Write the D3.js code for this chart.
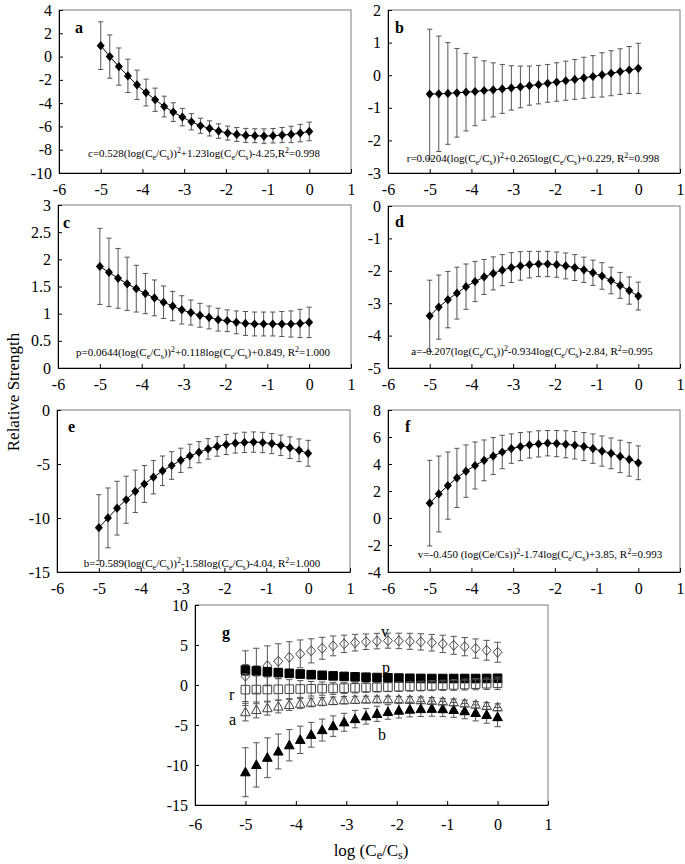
<!DOCTYPE html>
<html><head><meta charset="utf-8">
<script src="https://cdn.jsdelivr.net/npm/d3@7"></script>
<style>
body{margin:0;background:#fff;}
svg{display:block;}
svg text{font-family:"Liberation Serif","Times New Roman",Tinos,serif !important;}
</style></head>
<body><svg id="chart" width="685" height="864"></svg>
<script>
// ---------- data ----------
const logRatio = [-5.000,-4.783,-4.565,-4.348,-4.130,-3.913,-3.696,-3.478,-3.261,-3.043,-2.826,-2.609,-2.391,-2.174,-1.957,-1.739,-1.522,-1.304,-1.087,-0.870,-0.652,-0.435,-0.217,0.000];

const cVals = [0.94,0.00,-0.86,-1.66,-2.43,-3.09,-3.71,-4.29,-4.77,-5.20,-5.60,-5.94,-6.17,-6.40,-6.57,-6.69,-6.77,-6.80,-6.83,-6.80,-6.74,-6.69,-6.57,-6.43];
const cErr  = [2.05,1.86,1.60,1.43,1.26,1.15,1.00,0.89,0.80,0.75,0.70,0.65,0.65,0.62,0.60,0.60,0.60,0.60,0.62,0.62,0.65,0.70,0.75,0.80];

const rVals = [-0.58,-0.57,-0.56,-0.54,-0.52,-0.50,-0.47,-0.45,-0.42,-0.39,-0.36,-0.32,-0.29,-0.25,-0.21,-0.17,-0.13,-0.08,-0.04,0.01,0.06,0.11,0.16,0.21];
const rErr  = [1.99,1.77,1.56,1.36,1.19,1.05,0.91,0.83,0.75,0.68,0.64,0.60,0.59,0.58,0.59,0.60,0.61,0.63,0.64,0.68,0.69,0.70,0.72,0.77];

const pVals = [1.87,1.76,1.65,1.55,1.46,1.37,1.29,1.21,1.14,1.07,1.02,0.97,0.93,0.89,0.87,0.84,0.82,0.81,0.81,0.81,0.81,0.81,0.82,0.84];
const pErr  = [0.70,0.63,0.55,0.49,0.43,0.37,0.33,0.30,0.27,0.26,0.23,0.22,0.21,0.21,0.20,0.21,0.22,0.22,0.22,0.22,0.23,0.24,0.26,0.28];

const aVals = [-3.39,-3.12,-2.89,-2.69,-2.49,-2.33,-2.19,-2.08,-1.98,-1.90,-1.85,-1.81,-1.79,-1.79,-1.81,-1.85,-1.90,-1.97,-2.06,-2.16,-2.30,-2.45,-2.61,-2.78];
const aErr  = [1.10,0.99,0.87,0.80,0.70,0.62,0.54,0.51,0.48,0.46,0.44,0.41,0.39,0.39,0.39,0.40,0.40,0.39,0.39,0.41,0.41,0.40,0.42,0.43];

const bVals = [-10.90,-9.99,-9.09,-8.31,-7.53,-6.85,-6.22,-5.63,-5.14,-4.66,-4.26,-3.91,-3.60,-3.37,-3.20,-3.07,-3.00,-2.97,-3.01,-3.11,-3.27,-3.49,-3.73,-4.01];
const bErr  = [3.06,2.77,2.49,2.18,1.96,1.71,1.55,1.37,1.28,1.12,1.09,0.98,0.95,0.91,0.93,0.92,0.94,0.94,0.94,0.93,0.95,1.00,1.05,1.20];

const vVals = [1.10,1.78,2.40,2.97,3.47,3.89,4.27,4.59,4.89,5.14,5.29,5.41,5.49,5.54,5.51,5.46,5.39,5.29,5.14,4.96,4.79,4.56,4.34,4.09];
const vErr  = [3.17,2.81,2.49,2.19,1.94,1.74,1.51,1.37,1.24,1.09,1.04,0.97,0.97,0.94,0.97,1.00,1.02,1.04,1.09,1.12,1.14,1.20,1.24,1.25];

const xTicks = [-6,-5,-4,-3,-2,-1,0,1];
const yTicksA = [-10,-8,-6,-4,-2,0,2,4];
const yTicksB = [-3,-2,-1,0,1,2];
const yTicksC = [0,0.5,1,1.5,2,2.5,3];
const yTicksD = [-5,-4,-3,-2,-1,0];
const yTicksE = [-15,-10,-5,0];
const yTicksF = [-4,-2,0,2,4,6,8];
const yTicksG = [-15,-10,-5,0,5,10];

const eqA = "c=0.528(log(C{e}/C{s}))[2]+1.23log(C{e}/C{s})-4.25,R[2]=0.998";
const eqB = "r=0.0204(log(C{e}/C{s}))[2]+0.265log(C{e}/C{s})+0.229, R[2]=0.998";
const eqC = "p=0.0644(log(C{e}/C{s}))[2]+0.118log(C{e}/C{s})+0.849, R[2]=1.000";
const eqD = "a=-0.207(log(C{e}/C{s}))[2]-0.934log(C{e}/C{s})-2.84, R[2]=0.995";
const eqE = "b=-0.589(log(C{e}/C{s}))[2]-1.58log(C{e}/C{s})-4.04, R[2]=1.000";
const eqF = "v=-0.450 (log(Ce/Cs))[2]-1.74log(C{e}/C{s})+3.85, R[2]=0.993";

// ---------- drawing ----------
const svg = d3.select("#chart");
const diamondPath = "M0,-4.6L4,0L0,4.6L-4,0Z";

function richText(g, str, x, y, size) {
  const t = g.append("text").attr("x", x).attr("y", y)
    .attr("text-anchor", "middle").attr("font-size", size).attr("fill", "#000");
  const re = /\{([^}]*)\}|\[([^\]]*)\]|([^{\[]+)/g;
  let m, shift = 0;
  while ((m = re.exec(str)) !== null) {
    if (m[1] !== undefined) {
      t.append("tspan").attr("dy", 2.5 - shift).attr("font-size", size * 0.72).text(m[1]); shift = 2.5;
    } else if (m[2] !== undefined) {
      t.append("tspan").attr("dy", -4 - shift).attr("font-size", size * 0.72).text(m[2]); shift = -4;
    } else {
      t.append("tspan").attr("dy", -shift).text(m[3]); shift = 0;
    }
  }
}

function frame(box, yDomain, yTicks, tickFont, xPad) {
  const g = svg.append("g");
  const x = d3.scaleLinear().domain([-6, 1]).range([box.l, box.r]);
  const y = d3.scaleLinear().domain(yDomain).range([box.b, box.t]);
  g.append("rect").attr("x", box.l).attr("y", box.t).attr("width", box.r - box.l)
    .attr("height", box.b - box.t).attr("fill", "none").attr("stroke", "#7a7a7a").attr("stroke-width", 1);
  const xa = g.append("g").attr("transform", `translate(0,${box.b})`)
    .call(d3.axisBottom(x).tickValues(xTicks).tickFormat(d => String(d)).tickSizeInner(-4).tickSizeOuter(0).tickPadding(xPad));
  const ya = g.append("g").attr("transform", `translate(${box.l},0)`)
    .call(d3.axisLeft(y).tickValues(yTicks).tickFormat(d => String(d)).tickSizeInner(-4).tickSizeOuter(0).tickPadding(7));
  [xa, ya].forEach(a => {
    a.select(".domain").attr("stroke", "#000");
    a.selectAll(".tick line").attr("stroke", "#000");
    a.selectAll("text").attr("font-size", tickFont).attr("fill", "#000");
  });
  return { g, x, y };
}

function errorBars(g, x, y, vals, errs, cap, color) {
  const eb = g.append("g").attr("stroke", color).attr("stroke-width", 1).attr("fill", "none");
  logRatio.forEach((lx, i) => {
    const cx = x(lx), y1 = y(vals[i] + errs[i]), y2 = y(vals[i] - errs[i]);
    eb.append("line").attr("x1", cx).attr("x2", cx).attr("y1", y1).attr("y2", y2);
    eb.append("line").attr("x1", cx - cap).attr("x2", cx + cap).attr("y1", y1).attr("y2", y1);
    eb.append("line").attr("x1", cx - cap).attr("x2", cx + cap).attr("y1", y2).attr("y2", y2);
  });
}

function panel(box, yDomain, yTicks, vals, errs, label, labelPos, eq, eqPos) {
  const { g, x, y } = frame(box, yDomain, yTicks, 16, 11);
  errorBars(g, x, y, vals, errs, 2.6, "#555");
  const line = d3.line().x((d, i) => x(logRatio[i])).y(d => y(d));
  g.append("path").datum(vals).attr("d", line).attr("fill", "none").attr("stroke", "#000").attr("stroke-width", 1);
  g.selectAll(".pt").data(vals).join("path").attr("class", "pt")
    .attr("transform", (d, i) => `translate(${x(logRatio[i])},${y(d)})`)
    .attr("d", diamondPath).attr("fill", "#000");
  g.append("text").attr("x", labelPos[0]).attr("y", labelPos[1]).attr("font-size", 16)
    .attr("font-weight", "bold").text(label);
  richText(g, eq, eqPos[0], eqPos[1], 11);
}

panel({l:59,r:351,t:10,b:173}, [-10,4], yTicksA, cVals, cErr, "a", [75,33], eqA, [204,157]);
panel({l:388,r:680,t:10,b:173}, [-3,2], yTicksB, rVals, rErr, "b", [395,33], eqB, [533,162]);
panel({l:58,r:351,t:205,b:368}, [0,3], yTicksC, pVals, pErr, "c", [63,228], eqC, [203,356]);
panel({l:388,r:680,t:206,b:368}, [-5,0], yTicksD, aVals, aErr, "d", [395,227], eqD, [532,355]);
panel({l:57,r:350,t:410,b:572}, [-15,0], yTicksE, bVals, bErr, "e", [68,432], eqE, [202,567]);
panel({l:388,r:680,t:410,b:572}, [-4,8], yTicksF, vVals, vErr, "f", [405,432], eqF, [540,558]);

// ---------- panel g ----------
(function () {
  const box = {l:195, r:548, t:605, b:805};
  const { g, x, y } = frame(box, [-15,10], yTicksG, 16, 14);
  const series = [
    { vals: vVals, errs: vErr, shape: "diamond", filled: false },
    { vals: bVals, errs: bErr, shape: "triangle", filled: true },
    { vals: aVals, errs: aErr, shape: "triangle", filled: false },
    { vals: pVals, errs: pErr, shape: "square", filled: true },
    { vals: rVals, errs: rErr, shape: "square", filled: false }
  ];
  const shapes = {
    diamond: "M0,-5L4.5,0L0,5L-4.5,0Z",
    triangle: "M0,-5L4.8,3.6L-4.8,3.6Z",
    square: "M-4.3,-4.3H4.3V4.3H-4.3Z"
  };
  series.forEach(s => {
    errorBars(g, x, y, s.vals, s.errs, 3.2, "#555");
    g.append("g").selectAll("path").data(s.vals).join("path")
      .attr("transform", (d, i) => `translate(${x(logRatio[i])},${y(d)})`)
      .attr("d", shapes[s.shape])
      .attr("fill", s.filled ? "#000" : "none")
      .attr("stroke", s.filled ? "#000" : "#444").attr("stroke-width", 1);
  });
  g.append("text").attr("x", 222).attr("y", 638).attr("font-size", 16).attr("font-weight", "bold").text("g");
  const lab = [["v",381,637],["p",382,673],["r",229,700],["a",229,725],["b",378,740]];
  lab.forEach(l => g.append("text").attr("x", l[1]).attr("y", l[2]).attr("font-size", 16).text(l[0]));
  const t = g.append("text").attr("x", 371).attr("y", 856).attr("text-anchor", "middle").attr("font-size", 17);
  t.append("tspan").text("log (C");
  t.append("tspan").attr("dy", 3).attr("font-size", 12).text("e");
  t.append("tspan").attr("dy", -3).text("/C");
  t.append("tspan").attr("dy", 3).attr("font-size", 12).text("s");
  t.append("tspan").attr("dy", -3).text(")");
})();

// y-axis title
svg.append("text").attr("transform", "translate(19,392) rotate(-90)").attr("text-anchor", "middle")
  .attr("font-size", 17).text("Relative Strength");
</script></body></html>
